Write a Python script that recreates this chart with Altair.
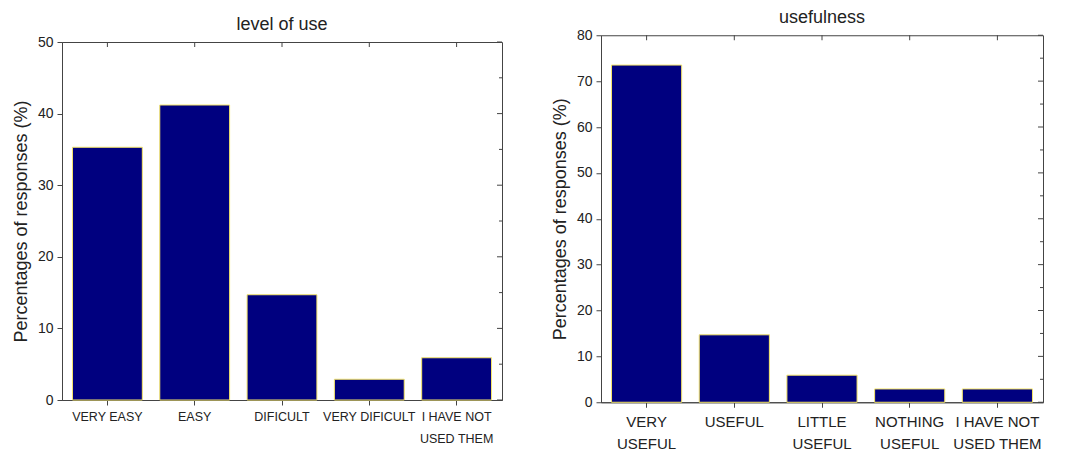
import altair as alt
import pandas as pd

# ---- data ----
use_cats = ["VERY EASY", "EASY", "DIFICULT", "VERY DIFICULT", "I HAVE NOT|USED THEM"]
use_vals = [35.3, 41.2, 14.7, 2.9, 5.9]

useful_cats = ["VERY|USEFUL", "USEFUL", "LITTLE|USEFUL", "NOTHING|USEFUL", "I HAVE NOT|USED THEM"]
useful_vals = [73.5, 14.7, 5.9, 2.9, 2.9]

FONT = "Liberation Sans"
NAVY = "#00007f"
AXC = "#444444"


def panel(cats, vals, title, ymax, w, h, xfs, lh, lpad, toff):
    df = pd.DataFrame({"cat": cats, "val": vals})
    major = pd.DataFrame({"t": list(range(0, ymax + 1, 10))})
    minor = pd.DataFrame({"t": list(range(5, ymax, 10))})
    xscale = alt.Scale(paddingInner=0.2, paddingOuter=0.12)
    yscale = alt.Scale(domain=[0, ymax], nice=False)

    bars = alt.Chart(df).mark_bar(color=NAVY, stroke="#f5e66a", strokeWidth=1).encode(
        x=alt.X("cat:N", sort=cats, scale=xscale,
                axis=alt.Axis(title=None, labelAngle=0,
                              labelExpr="split(datum.label, '|')",
                              labelFontSize=xfs, labelLineHeight=lh,
                              labelPadding=lpad, tickSize=5,
                              labelColor="#222", labelFont=FONT,
                              domainColor=AXC, tickColor=AXC)),
        y=alt.Y("val:Q", scale=yscale,
                axis=alt.Axis(title="Percentages of responses (%)",
                              values=list(range(0, ymax + 1, 5)),
                              labelExpr="datum.value % 10 == 0 ? datum.label : ''",
                              tickSize={"condition": {"test": "datum.value % 10 == 0", "value": 5}, "value": 3},
                              labelFontSize=14, labelColor="#222", labelFont=FONT,
                              labelPadding=4,
                              titleFontSize=18, titleFontWeight="normal", titleColor="#222",
                              titleFont=FONT, titlePadding=7,
                              grid=False, domainColor=AXC, tickColor=AXC)),
    )

    rmaj = alt.Chart(major).mark_rule(color=AXC, strokeWidth=1).encode(
        y=alt.Y("t:Q", scale=yscale), x=alt.value(w), x2=alt.value(w - 5))
    rmin = alt.Chart(minor).mark_rule(color=AXC, strokeWidth=1).encode(
        y=alt.Y("t:Q", scale=yscale), x=alt.value(w), x2=alt.value(w - 3))
    top = alt.Chart(df).mark_rule(color=AXC, strokeWidth=1).encode(
        x=alt.X("cat:N", sort=cats, scale=xscale), y=alt.value(0), y2=alt.value(5))

    return alt.layer(bars, rmaj, rmin, top).properties(
        width=w, height=h,
        title=alt.TitleParams(title, fontSize=18, font=FONT, fontWeight="normal",
                              color="#222", offset=toff))


left = panel(use_cats, use_vals, "level of use", 50, 440, 358, 12.5, 22, 5, 1)
right = panel(useful_cats, useful_vals, "usefulness", 80, 442, 367, 15, 22, 7, 1)

chart = alt.hconcat(left, right, spacing=47, center=True).configure(
    background="white",
    padding={"left": 3, "top": 0, "right": 0, "bottom": 0},
).configure_view(stroke=AXC, strokeWidth=1)

chart.save("out.html", embed_options={"renderer": "svg", "actions": False})
